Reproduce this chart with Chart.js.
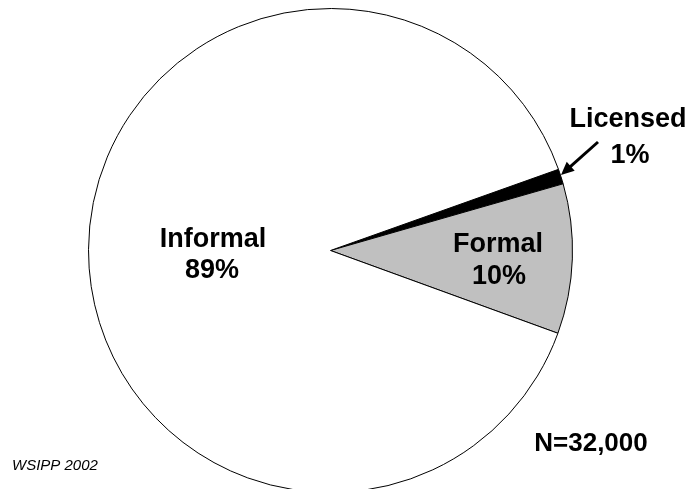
<!DOCTYPE html>
<html>
<head>
<meta charset="utf-8">
<script src="https://cdn.jsdelivr.net/npm/chart.js@4"></script>
<style>
    html, body { margin: 0; padding: 0; background: #fff; overflow: hidden; }
    #wrap { width: 698px; height: 493px; position: relative; }
</style>
</head>
<body>
<div id="wrap"><canvas id="pieChart"></canvas></div>
<script>
// slice order runs clockwise starting just above the right-hand horizontal
const categories = ['Licensed', 'Formal', 'Informal'];
const shares = [1, 10, 89];
const sliceColors = ['#000000', '#c0c0c0', '#ffffff'];
const totalLabel = 'N=32,000';
const sourceLabel = 'WSIPP 2002';

const labelFont = 'bold 27px "Liberation Sans", Arial, sans-serif';

// text labels + arrow drawn on top of the pie
const pieLabels = {
    id: 'pieLabels',
    afterDraw(chart) {
        const ctx = chart.ctx;
        const arc = chart.getDatasetMeta(0).data[0];
        const cx = arc.x, cy = arc.y, r = arc.outerRadius;

        ctx.save();
        ctx.fillStyle = '#000';
        ctx.textAlign = 'center';
        ctx.textBaseline = 'alphabetic';
        ctx.font = labelFont;

        // Informal
        ctx.fillText(categories[2], 213, 247);
        ctx.fillText(shares[2] + '%', 212, 278);
        // Formal
        ctx.fillText(categories[1], 498, 252);
        ctx.fillText(shares[1] + '%', 499, 284);
        // Licensed (outside, with arrow)
        ctx.fillText(categories[0], 628, 127);
        ctx.fillText(shares[0] + '%', 630, 163);

        // arrow pointing at the licensed slice
        const tip = { x: 561, y: 175 };
        const tail = { x: 598, y: 142 };
        const ang = Math.atan2(tip.y - tail.y, tip.x - tail.x);
        ctx.strokeStyle = '#000';
        ctx.lineWidth = 3;
        ctx.beginPath();
        ctx.moveTo(tail.x, tail.y);
        ctx.lineTo(tip.x - 8 * Math.cos(ang), tip.y - 8 * Math.sin(ang));
        ctx.stroke();
        ctx.beginPath();
        ctx.moveTo(tip.x, tip.y);
        ctx.lineTo(tip.x - 13 * Math.cos(ang) + 6 * Math.sin(ang), tip.y - 13 * Math.sin(ang) - 6 * Math.cos(ang));
        ctx.lineTo(tip.x - 13 * Math.cos(ang) - 6 * Math.sin(ang), tip.y - 13 * Math.sin(ang) + 6 * Math.cos(ang));
        ctx.closePath();
        ctx.fill();

        // sample size
        ctx.font = 'bold 26px "Liberation Sans", Arial, sans-serif';
        ctx.fillText(totalLabel, 591, 451);

        // source
        ctx.textAlign = 'left';
        ctx.font = 'italic 15px "Liberation Sans", Arial, sans-serif';
        ctx.fillText(sourceLabel, 12, 470);
        ctx.restore();
    }
};

new Chart(document.getElementById('pieChart'), {
    type: 'pie',
    data: {
        labels: categories,
        datasets: [{
            data: shares,
            backgroundColor: sliceColors,
            borderColor: '#000000',
            borderWidth: 1
        }]
    },
    options: {
        responsive: true,
        maintainAspectRatio: false,
        animation: false,
        rotation: 70.4,
        layout: { padding: { left: 88, right: 125, top: 8, bottom: 0 } },
        plugins: {
            legend: { display: false },
            tooltip: { enabled: false }
        }
    },
    plugins: [pieLabels]
});
</script>
</body>
</html>
